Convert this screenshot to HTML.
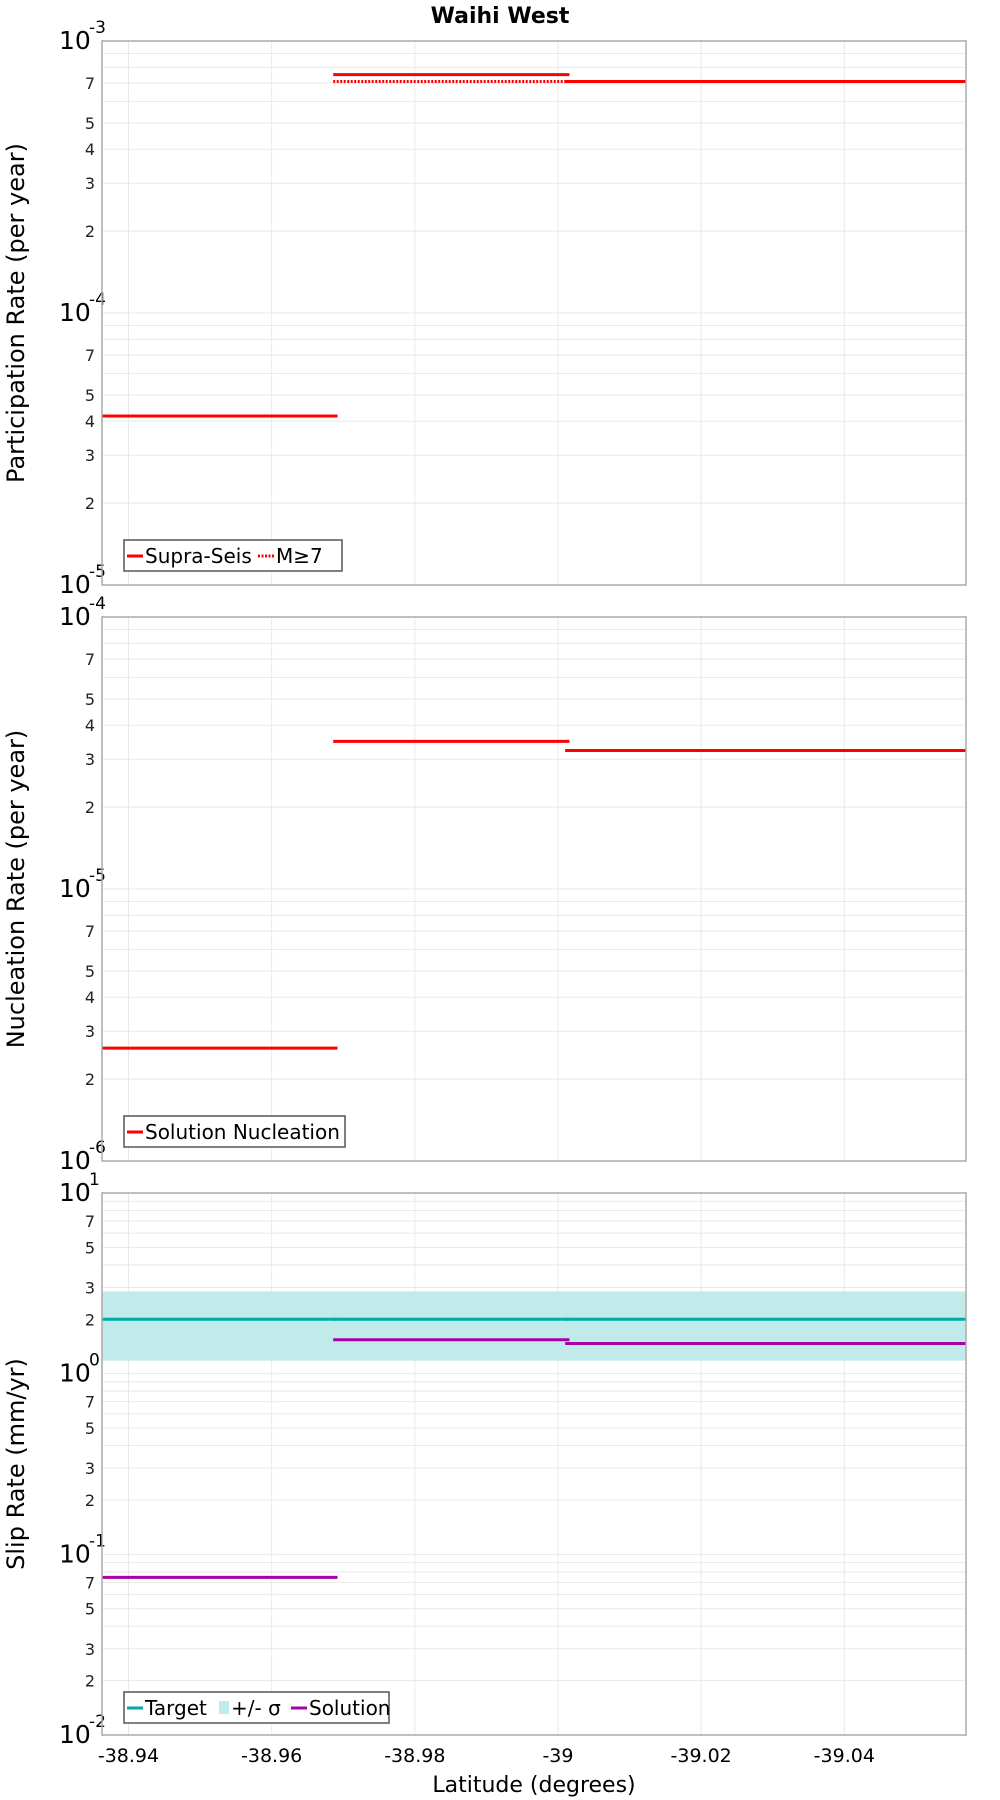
<!DOCTYPE html>
<html><head><meta charset="utf-8"><style>
html,body{margin:0;padding:0;background:#fff;}
svg{display:block;font-family:"DejaVu Sans","Liberation Sans",sans-serif;}
</style></head><body>
<svg id="chart" width="1000" height="1800" viewBox="0 0 1000 1800" xmlns="http://www.w3.org/2000/svg">
<text x="500" y="23" text-anchor="middle" font-size="22" font-weight="bold">Waihi West</text>
<text x="534" y="1792" text-anchor="middle" font-size="22">Latitude (degrees)</text>
</svg>
<script>
// x-axis data
const xTicks = [-38.94, -38.96, -38.98, -39, -39.02, -39.04];
const xTickLabels = ["-38.94", "-38.96", "-38.98", "-39", "-39.02", "-39.04"];
const xDomain = [-38.9363, -39.0570];
// section boundaries
const segStart = [-38.9363, -38.9686, -39.0010];
const segEnd = [-38.9692, -39.0016, -39.0570];
// panel 1 data
const supraSeis = [4.18e-5, 7.52e-4, 7.1e-4];
const m7 = [null, 7.1e-4, 7.1e-4];
// panel 2 data
const nucleation = [2.6e-6, 3.49e-5, 3.23e-5];
// panel 3 data
const targetSlip = [2.0, 2.0, 2.0];
const sigmaHigh = [2.85, 2.85, 2.85];
const sigmaLow = [1.18, 1.18, 1.18];
const solutionSlip = [0.0746, 1.54, 1.47];

const NS = "http://www.w3.org/2000/svg";
const svg = document.getElementById('chart');
const L = 102, R = 966;
function mk(tag, attrs, parent){const e=document.createElementNS(NS,tag);for(const k in attrs)e.setAttribute(k,attrs[k]);(parent||svg).appendChild(e);return e;}
function xs(v){return L + (v - xDomain[0])/(xDomain[1]-xDomain[0])*(R-L);}

function panel(name, top, bot, minExp, maxExp, yTitle, minorLabels){
  const g = mk('g',{});
  
  
  const ys = v => bot - (Math.log10(v)-minExp)/(maxExp-minExp)*(bot-top);
  for(let e=minExp;e<maxExp;e++){
    for(let m=1;m<=9;m++){
      const y = ys(m*Math.pow(10,e));
      if(m>1){const gl=mk('line',{x1:L,x2:R,y1:y,y2:y,stroke:'#e8e8e8','stroke-width':1},g);
        }
      if(m>1 && minorLabels.includes(m)){
        const t=mk('text',{x:95,y:y+6,'text-anchor':'end','font-size':16,fill:'#222'},g);
        t.textContent=String(m);
        
      }
    }
  }
  for(let e=minExp;e<=maxExp;e++){
    const y=ys(Math.pow(10,e));
    const gl=mk('line',{x1:L,x2:R,y1:y,y2:y,stroke:'#e8e8e8','stroke-width':1},g);
    
    const t=mk('text',{x:59,y:y+8,'font-size':25,fill:'#000'},g);
    t.textContent='10';
    
    const s=mk('text',{x:89,y:y-8,'font-size':17,fill:'#000'},g);
    s.textContent=String(e);
    
  }
  xTicks.forEach(v=>{const gl=mk('line',{x1:xs(v),x2:xs(v),y1:top,y2:bot,stroke:'#e8e8e8','stroke-width':1},g);
    });
  const yt=mk('text',{x:0,y:0,'font-size':24,'text-anchor':'middle',transform:`translate(24,${(top+bot)/2}) rotate(-90)`},g);
  yt.textContent=yTitle;
  
  return {g,ys,top,bot};
}
function frame(p){const r=mk('rect',{x:L,y:p.top,width:R-L,height:p.bot-p.top,fill:'none',stroke:'#aaaaaa','stroke-width':1.5},p.g);
  }
function segs(p, arr, color, name, dash){
  arr.forEach((v,i)=>{ if(v==null) return;
    const y=p.ys(v);
    const l=mk('line',{x1:xs(segStart[i]),x2:xs(segEnd[i]),y1:y,y2:y,stroke:color,'stroke-width':3},p.g);
    if(dash) l.setAttribute('stroke-dasharray','2,1.5');
    
  });
}
function legend(p, x, y, w, items){
  const lg=mk('g',{},p.g);
  
  const r=mk('rect',{x:x,y:y,width:w,height:31,fill:'#fff',stroke:'#555','stroke-width':1.5},lg);
  
  let cx=x+3;
  items.forEach(it=>{
    const e=mk('g',{},lg);
    
    if(it.band){mk('rect',{x:cx+2,y:y+9,width:10,height:13,fill:it.color},e);cx+=14;}
    else{const l=mk('line',{x1:cx,x2:cx+16,y1:y+16,y2:y+16,stroke:it.color,'stroke-width':3},e);
      if(it.dash) l.setAttribute('stroke-dasharray','2,1.5'); cx+=18;}
    const t=mk('text',{x:cx,y:y+23,'font-size':20},e);t.textContent=it.label;
    cx+=it.w;
  });
}

const p1=panel('participation-panel',41,585,-5,-3,'Participation Rate (per year)',[2,3,4,5,7]);
segs(p1,m7,'#ff0000','m7-line',true);
segs(p1,supraSeis,'#ff0000','supra-seis-line',false);
frame(p1);
legend(p1,124,540,218,[{label:'Supra-Seis',color:'#ff0000',w:113},{label:'M≥7',color:'#ff0000',dash:true,w:50}]);

const p2=panel('nucleation-panel',617,1161,-6,-4,'Nucleation Rate (per year)',[2,3,4,5,7]);
segs(p2,nucleation,'#ff0000','nucleation-line',false);
frame(p2);
legend(p2,124,1116,221,[{label:'Solution Nucleation',color:'#ff0000',w:200}]);

const p3=panel('slip-rate-panel',1193,1735,-2,1,'Slip Rate (mm/yr)',[2,3,5,7]);
segStart.forEach((s,i)=>{
  const y1=p3.ys(sigmaHigh[i]), y2=p3.ys(sigmaLow[i]);
  const b=mk('rect',{x:xs(s),y:y1,width:xs(segEnd[i])-xs(s),height:y2-y1,fill:'#c0ebea'},p3.g);
  
});
segs(p3,targetSlip,'#00aaaa','target-line',false);
segs(p3,solutionSlip,'#aa00aa','solution-line',false);
frame(p3);
legend(p3,124,1692,265,[{label:'Target',color:'#00aaaa',w:72},{label:'+/- σ',color:'#c0ebea',band:true,w:60},{label:'Solution',color:'#aa00aa',w:90}]);

xTicks.forEach((v,i)=>{
  const t=mk('text',{x:xs(v),y:1762,'text-anchor':'middle','font-size':19});
  t.textContent=xTickLabels[i];
  
});
</script>
</body></html>
